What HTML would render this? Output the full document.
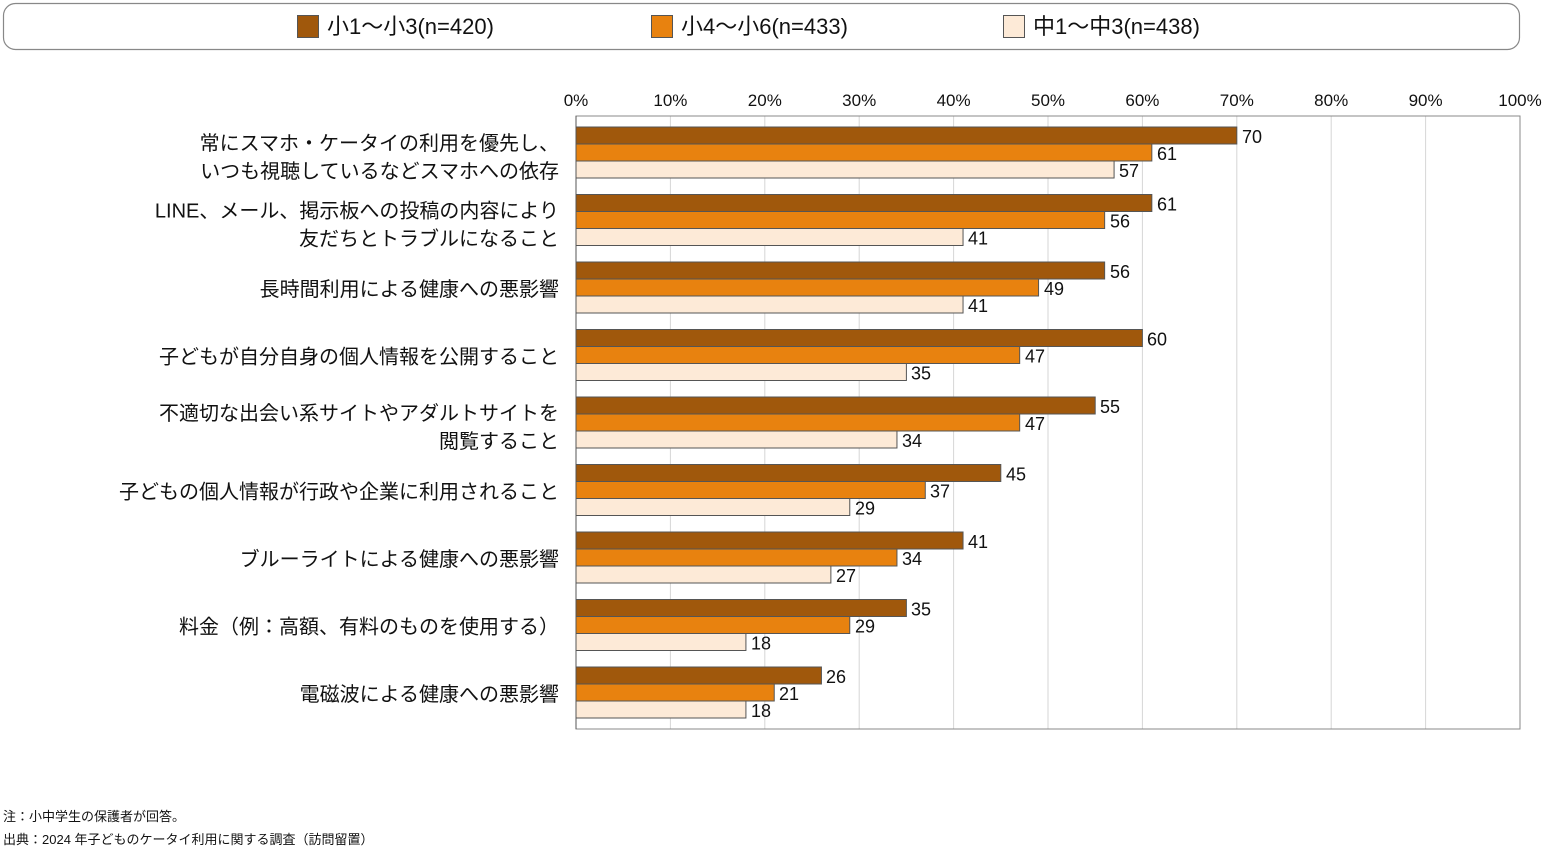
<!DOCTYPE html>
<html><head><meta charset="utf-8"><style>
body{margin:0;background:#fff;}
svg{display:block;font-family:"Liberation Sans","Noto Sans CJK JP",sans-serif;}
</style></head><body>
<svg width="1551" height="851" viewBox="0 0 1551 851">
<rect x="3.5" y="3.5" width="1516" height="46" rx="12" fill="#fff" stroke="#888" stroke-width="1.2"/>
<rect x="297.5" y="15.5" width="21" height="22" fill="#A0580C" stroke="#555"/>
<text x="327" y="34" font-size="22" fill="#111">小1〜小3(n=420)</text>
<rect x="651.5" y="15.5" width="21" height="22" fill="#E8820F" stroke="#555"/>
<text x="681" y="34" font-size="22" fill="#111">小4〜小6(n=433)</text>
<rect x="1003.5" y="15.5" width="21" height="22" fill="#FDEAD7" stroke="#555"/>
<text x="1033" y="34" font-size="22" fill="#111">中1〜中3(n=438)</text>
<g stroke="#d6d6d6">
<line x1="670.4" y1="116" x2="670.4" y2="729"/><line x1="764.8" y1="116" x2="764.8" y2="729"/><line x1="859.2" y1="116" x2="859.2" y2="729"/><line x1="953.6" y1="116" x2="953.6" y2="729"/><line x1="1048" y1="116" x2="1048" y2="729"/><line x1="1142.4" y1="116" x2="1142.4" y2="729"/><line x1="1236.8" y1="116" x2="1236.8" y2="729"/><line x1="1331.2" y1="116" x2="1331.2" y2="729"/><line x1="1425.6" y1="116" x2="1425.6" y2="729"/>
</g>
<rect x="576" y="116" width="944" height="613" fill="none" stroke="#888"/>
<g font-size="17" fill="#111" text-anchor="middle">
<text x="576" y="106">0%</text><text x="670.4" y="106">10%</text><text x="764.8" y="106">20%</text><text x="859.2" y="106">30%</text><text x="953.6" y="106">40%</text><text x="1048" y="106">50%</text><text x="1142.4" y="106">60%</text><text x="1236.8" y="106">70%</text><text x="1331.2" y="106">80%</text><text x="1425.6" y="106">90%</text><text x="1520" y="106">100%</text>
</g>
<g stroke="#555">
<rect x="576" y="127" width="660.8" height="17" fill="#A0580C"/><rect x="576" y="144" width="575.84" height="17" fill="#E8820F"/><rect x="576" y="161" width="538.08" height="17" fill="#FDEAD7"/>
<rect x="576" y="194.5" width="575.84" height="17" fill="#A0580C"/><rect x="576" y="211.5" width="528.64" height="17" fill="#E8820F"/><rect x="576" y="228.5" width="387.04" height="17" fill="#FDEAD7"/>
<rect x="576" y="262" width="528.64" height="17" fill="#A0580C"/><rect x="576" y="279" width="462.56" height="17" fill="#E8820F"/><rect x="576" y="296" width="387.04" height="17" fill="#FDEAD7"/>
<rect x="576" y="329.5" width="566.4" height="17" fill="#A0580C"/><rect x="576" y="346.5" width="443.68" height="17" fill="#E8820F"/><rect x="576" y="363.5" width="330.4" height="17" fill="#FDEAD7"/>
<rect x="576" y="397" width="519.2" height="17" fill="#A0580C"/><rect x="576" y="414" width="443.68" height="17" fill="#E8820F"/><rect x="576" y="431" width="320.96" height="17" fill="#FDEAD7"/>
<rect x="576" y="464.5" width="424.8" height="17" fill="#A0580C"/><rect x="576" y="481.5" width="349.28" height="17" fill="#E8820F"/><rect x="576" y="498.5" width="273.76" height="17" fill="#FDEAD7"/>
<rect x="576" y="532" width="387.04" height="17" fill="#A0580C"/><rect x="576" y="549" width="320.96" height="17" fill="#E8820F"/><rect x="576" y="566" width="254.88" height="17" fill="#FDEAD7"/>
<rect x="576" y="599.5" width="330.4" height="17" fill="#A0580C"/><rect x="576" y="616.5" width="273.76" height="17" fill="#E8820F"/><rect x="576" y="633.5" width="169.92" height="17" fill="#FDEAD7"/>
<rect x="576" y="667" width="245.44" height="17" fill="#A0580C"/><rect x="576" y="684" width="198.24" height="17" fill="#E8820F"/><rect x="576" y="701" width="169.92" height="17" fill="#FDEAD7"/>
</g>
<line x1="576" y1="116" x2="576" y2="729" stroke="#555"/>
<g font-size="18" fill="#111">
<text x="1242" y="143">70</text><text x="1157" y="160">61</text><text x="1119" y="177">57</text>
<text x="1157" y="210.5">61</text><text x="1110" y="227.5">56</text><text x="968" y="244.5">41</text>
<text x="1110" y="278">56</text><text x="1044" y="295">49</text><text x="968" y="312">41</text>
<text x="1147" y="345.5">60</text><text x="1025" y="362.5">47</text><text x="911" y="379.5">35</text>
<text x="1100" y="413">55</text><text x="1025" y="430">47</text><text x="902" y="447">34</text>
<text x="1006" y="480.5">45</text><text x="930" y="497.5">37</text><text x="855" y="514.5">29</text>
<text x="968" y="548">41</text><text x="902" y="565">34</text><text x="836" y="582">27</text>
<text x="911" y="615.5">35</text><text x="855" y="632.5">29</text><text x="751" y="649.5">18</text>
<text x="826" y="683">26</text><text x="779" y="700">21</text><text x="751" y="717">18</text>
</g>
<g font-size="20" fill="#111" text-anchor="end">
<text x="559" y="150">常にスマホ・ケータイの利用を優先し、</text>
<text x="559" y="178">いつも視聴しているなどスマホへの依存</text>
<text x="559" y="217.5">LINE、メール、掲示板への投稿の内容により</text>
<text x="559" y="245.5">友だちとトラブルになること</text>
<text x="559" y="296">長時間利用による健康への悪影響</text>
<text x="559" y="363.5">子どもが自分自身の個人情報を公開すること</text>
<text x="559" y="420">不適切な出会い系サイトやアダルトサイトを</text>
<text x="559" y="448">閲覧すること</text>
<text x="559" y="498.5">子どもの個人情報が行政や企業に利用されること</text>
<text x="559" y="566">ブルーライトによる健康への悪影響</text>
<text x="559" y="633.5">料金（例：高額、有料のものを使用する）</text>
<text x="559" y="701">電磁波による健康への悪影響</text>
</g>
<text x="3" y="821" font-size="13" fill="#111">注：小中学生の保護者が回答。</text>
<text x="3" y="844" font-size="13" fill="#111">出典：2024 年子どものケータイ利用に関する調査（訪問留置）</text>
</svg>
</body></html>
